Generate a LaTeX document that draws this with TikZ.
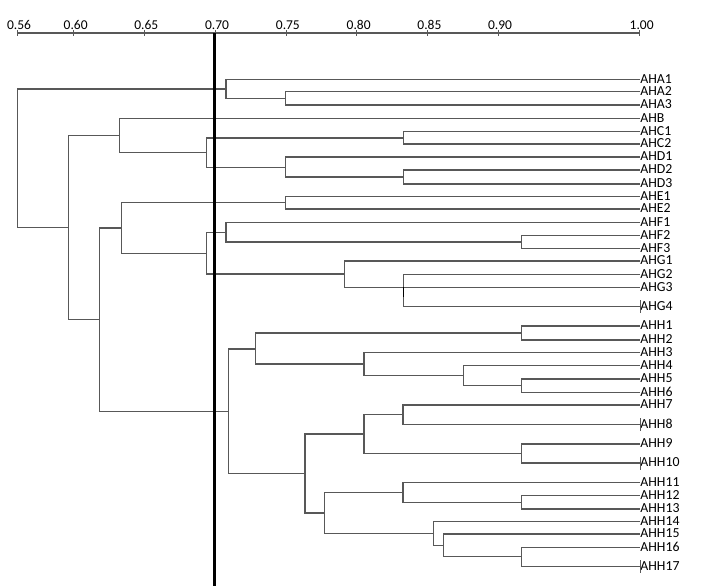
\documentclass[tikz,border=0pt]{standalone}
\usepackage{fontspec}
\setmainfont{Carlito}
\definecolor{treegray}{RGB}{88,88,88}
\begin{document}
\begin{tikzpicture}[
    x=1pt, y=-1pt,
    leaf/.style={anchor=west,inner sep=0.2pt,text depth=1pt,font=\fontsize{13.8}{15}\selectfont},
    scale label/.style={anchor=base,inner sep=0pt,font=\fontsize{13.5}{15}\selectfont},
    branch/.style={draw=treegray,line width=1.1pt},
    cut line/.style={draw=black,line width=2.2pt},
  ]
  \useasboundingbox (0,0) rectangle (709,586);

  \draw[branch] (17.3,33) -- (640,33);
  \foreach \v/\a/\b in {0.56/0/56,0.60/0/60,0.65/0/65,0.70/0/70,0.75/0/75,0.80/0/80,0.85/0/85,0.90/0/90,1.00/1/00} {
    \pgfmathsetmacro\xx{17.3+(\v-0.56)*1415}
    \draw[branch] (\xx,30) -- (\xx,36);
    \node[scale label] (s\a\b) at (\xx,29.5) {\llap{\a.}\rlap{\b}};
  }

  \foreach \n/\y in {AHA1/79.3,AHA2/91.7,AHA3/105,AHB/118.3,AHC1/131.7,AHC2/144,
      AHD1/157,AHD2/170,AHD3/184,AHE1/196.7,AHE2/209,AHF1/222.3,AHF2/235.7,AHF3/248.3,
      AHG1/261,AHG2/274.3,AHG3/287.3,AHG4/306.3,AHH1/326,AHH2/340,AHH3/352.3,AHH4/365.7,
      AHH5/379,AHH6/392.3,AHH7/405,AHH8/424.3,AHH9/444,AHH10/463,AHH11/482.3,AHH12/495.7,
      AHH13/509,AHH14/521.3,AHH15/534,AHH16/547.3,AHH17/566.3}
    \node[leaf] (\n) at (640,\y) {\n};

  \coordinate (nA23) at (285.7,98.3);
  \coordinate (nA) at (226,89);
  \coordinate (nC) at (403.3,138);
  \coordinate (nD23) at (403.3,177);
  \coordinate (nD) at (285.7,167.3);
  \coordinate (nCD) at (206.7,152.7);
  \coordinate (nBD) at (119.3,135.5);
  \coordinate (nE) at (285.7,202.8);
  \coordinate (nF23) at (521.7,242);
  \coordinate (nF) at (226,232.3);
  \coordinate (nG24) at (403.3,287.3);
  \coordinate (nG) at (344.3,274);
  \coordinate (nFG) at (206.7,253.3);
  \coordinate (nEG) at (121.7,228);
  \coordinate (nH12) at (521.7,333);
  \coordinate (nH56) at (521.7,385.7);
  \coordinate (nH46) at (463.3,375.8);
  \coordinate (nH36) at (364,364);
  \coordinate (nH16) at (255.3,349);
  \coordinate (nH78) at (403,414.7);
  \coordinate (nH910) at (521.7,453.5);
  \coordinate (nH710) at (364,434);
  \coordinate (nH1213) at (521.7,502.3);
  \coordinate (nH1113) at (403,492.3);
  \coordinate (nH1617) at (521.7,556.8);
  \coordinate (nH1517) at (443.3,545.6);
  \coordinate (nH1417) at (433.3,533.5);
  \coordinate (nH1117) at (324.7,513);
  \coordinate (nH717) at (305,473.5);
  \coordinate (nH) at (228.7,411.3);
  \coordinate (nEH) at (99.3,319.7);
  \coordinate (nBH) at (68.3,227.6);
  \coordinate (root) at (17.3,158.3);

  \foreach \p/\c in {nA23/AHA2.west,nA23/AHA3.west,nA/AHA1.west,nA/nA23,
      nC/AHC1.west,nC/AHC2.west,nD23/AHD2.west,nD23/AHD3.west,nD/AHD1.west,nD/nD23,
      nCD/nC,nCD/nD,nBD/AHB.west,nBD/nCD,
      nE/AHE1.west,nE/AHE2.west,nF23/AHF2.west,nF23/AHF3.west,nF/AHF1.west,nF/nF23,
      nG24/AHG2.west,nG24/AHG3.west,nG24/AHG4.west,nG/AHG1.west,nG/nG24,
      nFG/nF,nFG/nG,nEG/nE,nEG/nFG,
      nH12/AHH1.west,nH12/AHH2.west,nH56/AHH5.west,nH56/AHH6.west,nH46/AHH4.west,nH46/nH56,
      nH36/AHH3.west,nH36/nH46,nH16/nH12,nH16/nH36,
      nH78/AHH7.west,nH78/AHH8.west,nH910/AHH9.west,nH910/AHH10.west,nH710/nH78,nH710/nH910,
      nH1213/AHH12.west,nH1213/AHH13.west,nH1113/AHH11.west,nH1113/nH1213,
      nH1617/AHH16.west,nH1617/AHH17.west,nH1517/AHH15.west,nH1517/nH1617,
      nH1417/AHH14.west,nH1417/nH1517,nH1117/nH1113,nH1117/nH1417,
      nH717/nH710,nH717/nH1117,nH/nH16,nH/nH717,
      nEH/nEG,nEH/nH,nBH/nBD,nBH/nEH,root/nA,root/nBH}
    \draw[branch] (\p) |- (\c);

  \foreach \n in {AHG4,AHH8,AHH10,AHH17}
    \draw[branch,line width=0.8pt] (\n.west) ++(0,-6) -- ++(0,13);
  \draw[branch,draw=black,line width=1.4pt] (nG24) -- ++(0,10);

  \coordinate (cuttop) at (214.5,33);
  \coordinate (cutbot) at (214.5,586);
  \draw[cut line] (cuttop) -- (cutbot);
\end{tikzpicture}
\end{document}
